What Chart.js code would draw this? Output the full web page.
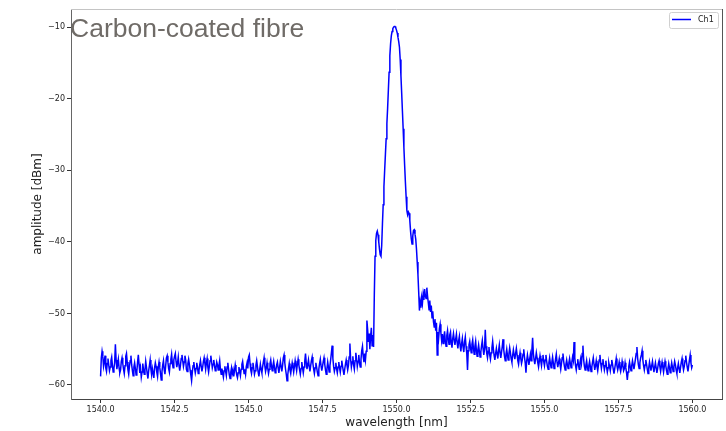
<!DOCTYPE html>
<html><head><meta charset="utf-8">
<script src="https://cdn.jsdelivr.net/npm/chart.js@4.4.1/dist/chart.umd.min.js"></script>
<style>html,body{margin:0;padding:0;background:#fff;overflow:hidden;}</style>
</head><body>
<canvas id="c" width="726" height="431" style="display:block;width:726px;height:431px"></canvas>
<script>
const chartTitle = 'Carbon-coated fibre';
const seriesName = 'Ch1';
const xLabel = 'wavelength [nm]';
const yLabel = 'amplitude [dBm]';
const wavelengthStart = 1540.0;
const wavelengthStep = 0.025;
const xTicks = [1540.0, 1542.5, 1545.0, 1547.5, 1550.0, 1552.5, 1555.0, 1557.5, 1560.0];
const yTicks = [-60, -50, -40, -30, -20, -10];
const amplitude = [
-58.8,-56.2,-55.3,-56.0,-57.4,-56.8,-55.9,-57.6,-58.1,-57.0,-56.3,-57.2,-58.0,-57.5,-56.6,-56.1,-57.3,-58.2,-57.7,-56.9,
-54.3,-56.5,-57.8,-57.1,-56.4,-57.6,-58.3,-57.9,-56.7,-56.2,-57.0,-57.8,-58.4,-57.3,-56.0,-55.6,-56.8,-57.9,-58.5,-57.4,
-56.6,-55.9,-57.2,-58.0,-58.7,-57.5,-56.9,-57.7,-58.6,-58.1,-56.8,-55.8,-57.1,-58.3,-57.6,-58.9,-58.2,-57.0,-57.8,-58.5,
-57.9,-56.7,-57.5,-58.4,-59.1,-58.0,-57.3,-56.5,-57.8,-58.6,-57.7,-58.3,-59.0,-57.6,-56.9,-57.4,-58.2,-58.8,-57.5,-56.8,
-57.6,-58.4,-59.3,-58.1,-57.2,-56.6,-57.9,-58.5,-57.3,-56.2,-55.9,-56.8,-57.7,-58.2,-57.0,-56.4,-55.7,-56.9,-57.6,-56.5,
-56.0,-55.6,-56.7,-57.5,-56.9,-56.1,-57.3,-58.0,-57.2,-56.3,-55.8,-56.6,-57.4,-56.8,-55.9,-56.5,-57.8,-58.1,-57.0,-56.4,
-57.1,-57.9,-58.6,-59.4,-58.2,-57.3,-56.8,-57.6,-58.3,-57.7,-56.9,-57.5,-58.4,-58.0,-57.2,-56.6,-57.4,-58.1,-57.5,-56.7,
-56.2,-57.0,-57.8,-56.9,-56.3,-57.5,-58.2,-57.4,-56.6,-55.9,-56.7,-57.6,-57.1,-56.5,-57.3,-58.0,-57.6,-56.8,-57.2,-57.9,
-57.3,-56.6,-57.8,-58.5,-57.7,-58.3,-58.9,-58.0,-57.4,-58.1,-58.7,-57.5,-56.9,-57.8,-58.6,-59.1,-58.2,-57.6,-58.4,-57.9,
-58.8,-58.0,-57.2,-57.9,-58.6,-59.0,-58.3,-57.5,-58.1,-58.7,-57.8,-57.1,-56.7,-57.6,-58.4,-57.8,-58.5,-57.4,-56.9,-57.7,
-56.1,-55.8,-57.0,-57.9,-58.4,-57.6,-56.9,-57.7,-58.5,-58.0,-57.2,-56.6,-57.4,-58.2,-58.8,-57.9,-57.1,-57.8,-58.3,-57.5,
-56.8,-56.2,-57.3,-58.1,-57.6,-56.9,-57.7,-58.4,-57.8,-57.0,-56.5,-57.4,-58.0,-57.3,-56.7,-57.5,-58.3,-57.9,-57.2,-56.8,
-57.6,-58.3,-57.5,-56.7,-57.4,-58.1,-57.3,-56.2,-55.8,-56.9,-57.8,-58.5,-59.4,-58.6,-57.7,-57.0,-57.9,-58.4,-57.6,-56.9,
-57.5,-58.2,-57.4,-56.6,-57.3,-58.0,-57.1,-56.4,-57.2,-57.9,-58.5,-57.7,-56.8,-57.6,-58.3,-57.5,-56.7,-55.6,-56.9,-57.8,
-57.2,-56.5,-57.4,-58.1,-57.3,-56.6,-56.1,-57.0,-57.8,-58.4,-57.6,-56.9,-57.5,-58.2,-58.7,-57.8,-57.0,-56.4,-57.3,-58.0,
-57.4,-56.7,-56.2,-57.1,-57.9,-58.5,-57.7,-56.8,-57.5,-58.2,-57.3,-56.5,-55.5,-54.5,-56.3,-57.4,-58.1,-57.6,-56.9,-57.7,
-58.3,-57.5,-56.8,-57.6,-58.2,-57.4,-56.6,-57.3,-58.0,-58.6,-57.8,-57.1,-56.5,-57.2,-57.9,-57.3,-56.1,-54.2,-56.4,-57.5,
-56.8,-56.0,-57.2,-57.8,-56.6,-55.5,-56.3,-57.4,-56.7,-55.8,-56.9,-57.5,-56.4,-55.2,-54.6,-56.0,-56.8,-55.6,-56.5,-55.3,
-51.0,-52.3,-54.0,-52.8,-55.0,-53.2,-52.0,-54.5,-53.0,-54.7,-47.5,-42.0,-39.8,-38.8,-38.5,-39.0,-40.0,-41.0,-41.8,-42.0,
-40.5,-37.5,-34.8,-32.3,-30.0,-27.8,-25.6,-23.5,-21.3,-18.8,-16.3,-14.0,-12.3,-11.2,-10.6,-10.2,-10.0,-9.9,-9.9,-10.1,
-10.4,-10.8,-11.4,-12.0,-12.8,-14.5,-16.8,-19.2,-21.7,-24.2,-26.8,-29.3,-31.6,-33.7,-35.6,-36.2,-35.8,-36.0,-37.0,-38.5,
-39.6,-40.3,-39.2,-38.4,-38.3,-38.9,-39.6,-41.0,-42.8,-44.6,-47.0,-49.6,-48.4,-49.2,-47.8,-48.6,-47.3,-48.1,-46.6,-47.5,
-47.9,-46.4,-47.6,-48.5,-49.5,-48.2,-49.8,-48.9,-50.6,-49.7,-51.2,-51.9,-50.8,-52.4,-51.3,-55.8,-52.6,-53.4,-52.1,-51.5,
-52.7,-53.8,-52.9,-54.2,-53.4,-52.5,-53.9,-54.6,-53.1,-52.4,-53.6,-54.3,-53.0,-52.6,-54.0,-54.8,-53.5,-52.8,-53.7,-54.4,
-53.6,-52.9,-54.1,-54.9,-53.8,-53.2,-54.5,-55.3,-54.2,-53.5,-54.7,-55.4,-54.0,-53.3,-54.6,-55.6,-57.9,-55.2,-54.4,-53.9,
-54.8,-55.5,-54.3,-53.7,-54.9,-55.7,-54.6,-53.9,-55.2,-56.0,-55.1,-54.4,-55.3,-56.1,-55.4,-54.5,-53.8,-54.9,-55.8,-55.0,
-52.3,-54.6,-55.6,-56.2,-55.3,-54.7,-55.8,-56.4,-55.5,-54.8,-53.9,-55.0,-55.9,-56.5,-55.6,-54.9,-55.7,-56.3,-55.2,-54.4,
-55.5,-56.2,-55.4,-54.6,-53.6,-55.1,-56.0,-56.6,-55.7,-55.0,-55.9,-56.5,-55.6,-54.8,-55.5,-56.3,-56.8,-55.9,-55.1,-55.8,
-56.4,-55.6,-54.9,-55.8,-56.6,-57.1,-56.2,-55.5,-56.3,-57.0,-56.5,-55.7,-55.0,-56.1,-56.9,-58.3,-56.6,-55.8,-56.5,-57.2,
-56.4,-55.7,-56.6,-55.2,-53.4,-55.6,-56.5,-57.1,-56.3,-55.5,-56.2,-56.9,-57.5,-56.7,-55.9,-56.6,-57.3,-56.4,-55.8,-56.7,
-57.3,-56.5,-55.8,-56.7,-57.4,-57.8,-56.9,-56.2,-57.0,-57.6,-56.8,-56.1,-56.9,-57.7,-57.2,-56.4,-55.7,-56.8,-57.5,-56.9,
-56.3,-57.1,-57.8,-57.0,-56.2,-55.6,-56.7,-57.4,-57.9,-57.1,-56.5,-57.2,-57.7,-56.9,-56.3,-57.0,-57.6,-56.8,-56.1,-56.6,
-54.0,-56.2,-57.3,-57.9,-57.1,-56.4,-57.2,-57.8,-56.9,-56.3,-57.0,-55.6,-54.5,-56.5,-57.4,-57.9,-57.2,-56.6,-57.5,-58.0,
-57.3,-56.7,-57.4,-58.1,-57.5,-56.8,-56.2,-57.1,-57.9,-57.3,-56.6,-57.4,-58.0,-57.2,-56.5,-55.8,-56.9,-57.7,-57.0,-56.4,
-57.2,-57.9,-57.3,-56.6,-57.5,-58.2,-57.6,-56.9,-57.4,-58.0,-57.2,-56.5,-57.1,-57.8,-58.4,-57.7,-57.0,-56.3,-57.3,-57.9,
-57.4,-56.8,-57.6,-58.1,-57.5,-56.7,-57.3,-58.0,-57.7,-56.9,-57.6,-58.3,-59.3,-58.2,-57.4,-56.8,-57.5,-58.0,-57.3,-56.6,
-57.2,-57.8,-57.1,-56.4,-55.6,-54.7,-56.3,-57.2,-57.7,-56.9,-56.2,-55.8,-55.2,-56.5,-57.3,-57.9,-57.2,-56.5,-57.1,-57.8,
-58.4,-57.6,-56.8,-57.4,-58.0,-57.3,-56.7,-57.5,-58.2,-57.5,-56.9,-57.6,-58.3,-57.7,-57.0,-56.6,-57.4,-58.1,-57.4,-56.8,
-57.5,-58.2,-57.4,-56.7,-57.3,-58.0,-58.5,-57.7,-57.0,-57.6,-58.3,-57.6,-56.9,-57.5,-58.1,-57.4,-56.7,-57.2,-57.9,-58.4,
-57.6,-57.0,-57.7,-58.3,-57.5,-56.8,-56.3,-57.2,-57.9,-57.4,-56.6,-55.9,-56.8,-57.5,-58.1,-57.3,-56.5,-55.8,-56.9,-57.6,
-57.2
];

const points = amplitude.map((y, i) => ({x: +(wavelengthStart + i * wavelengthStep).toFixed(3), y: y}));
const LINE_BLUE = '#0000ff';

const decor = {
  id: 'decor',
  afterDraw(chart) {
    const ctx = chart.ctx, a = chart.chartArea;
    ctx.save();
    ctx.lineWidth = 1;
    ctx.strokeStyle = '#c4c4c4';
    ctx.beginPath(); ctx.moveTo(a.left, a.top + 0.5); ctx.lineTo(a.right, a.top + 0.5); ctx.stroke();
    ctx.strokeStyle = '#555555';
    ctx.beginPath(); ctx.moveTo(a.right + 0.5, a.top); ctx.lineTo(a.right + 0.5, a.bottom); ctx.stroke();
    ctx.fillStyle = '#6f6b67';
    ctx.font = '26.5px "Liberation Sans", Arial, sans-serif';
    ctx.textBaseline = 'alphabetic';
    ctx.textAlign = 'left';
    ctx.fillText(chartTitle, a.left - 1, a.top + 28);
    const bx = a.right - 53, by = a.top + 3.5, bw = 49, bh = 16;
    ctx.fillStyle = 'rgba(255,255,255,0.8)';
    ctx.strokeStyle = '#d0d0d0';
    ctx.beginPath();
    if (ctx.roundRect) ctx.roundRect(bx + 0.5, by, bw, bh, 2); else ctx.rect(bx + 0.5, by, bw, bh);
    ctx.fill(); ctx.stroke();
    ctx.strokeStyle = LINE_BLUE; ctx.lineWidth = 1.5;
    ctx.beginPath(); ctx.moveTo(bx + 3, by + 7); ctx.lineTo(bx + 22, by + 7); ctx.stroke();
    ctx.fillStyle = '#222222';
    ctx.font = '8px "DejaVu Sans", sans-serif';
    ctx.textBaseline = 'middle';
    ctx.fillText(seriesName, bx + 29, by + 7.5);
    ctx.restore();
  }
};

new Chart(document.getElementById('c'), {
  type: 'line',
  data: { datasets: [{
    label: seriesName, data: points, borderColor: LINE_BLUE, borderWidth: 1.5,
    pointRadius: 0, fill: false, tension: 0
  }]},
  options: {
    responsive: false, animation: false, devicePixelRatio: 1,
    parsing: false, normalized: true,
    layout: { padding: { top: 9, right: 4, left: 0, bottom: 0 } },
    plugins: { legend: { display: false }, tooltip: { enabled: false }, title: { display: false } },
    scales: {
      x: {
        type: 'linear', min: 1539.0, max: 1561.0,
        afterBuildTicks: s => { s.ticks = xTicks.map(v => ({ value: v })); },
        afterFit: s => { s.height = 32; },
        grid: { display: true, drawOnChartArea: false, drawTicks: true, tickLength: 4, color: '#333333' },
        border: { display: true, color: '#444444', width: 1 },
        ticks: { font: { family: 'DejaVu Sans', size: 8 }, color: '#222222', padding: 2, maxRotation: 0, autoSkip: false,
                 callback: v => Number(v).toFixed(1) },
        title: { display: true, text: xLabel, font: { family: 'DejaVu Sans', size: 12 }, color: '#222222', padding: { top: 0, bottom: 1 } }
      },
      y: {
        type: 'linear', min: -61.96, max: -7.45,
        afterBuildTicks: s => { s.ticks = yTicks.map(v => ({ value: v })); },
        afterFit: s => { s.width = 71; },
        grid: { display: true, drawOnChartArea: false, drawTicks: true, tickLength: 4, color: '#333333' },
        border: { display: true, color: '#666666', width: 1 },
        ticks: { font: { family: 'DejaVu Sans', size: 8 }, color: '#222222', padding: 2, autoSkip: false,
                 callback: v => (v < 0 ? '\u2212' : '') + Math.abs(v) },
        title: { display: true, text: yLabel, font: { family: 'DejaVu Sans', size: 12 }, color: '#222222', padding: { top: 31, bottom: 0 } }
      }
    }
  },
  plugins: [decor]
});
</script>
</body></html>
